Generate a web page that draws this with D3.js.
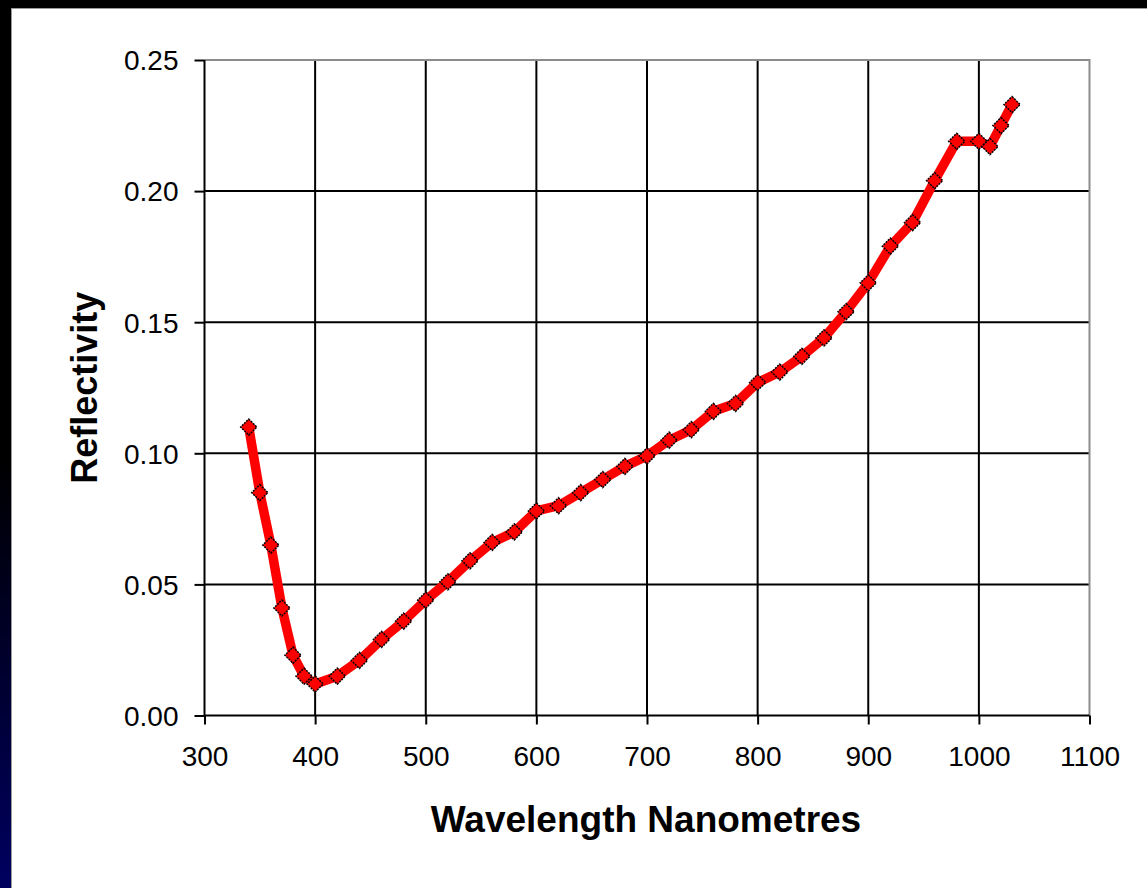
<!DOCTYPE html>
<html>
<head>
<meta charset="utf-8">
<script src="https://cdn.jsdelivr.net/npm/d3@7"></script>
<style>
html,body{margin:0;padding:0;background:#000;}
svg{display:block;}
</style>
</head>
<body>
<svg id="chart" width="1147" height="888"></svg>
<script>
const wavelengths = [340,350,360,370,380,390,400,420,440,460,480,500,520,540,560,580,600,620,640,660,680,700,720,740,760,780,800,820,840,860,880,900,920,940,960,980,1000,1010,1020,1030];
const reflectivity = [0.110,0.085,0.065,0.041,0.023,0.015,0.012,0.015,0.021,0.029,0.036,0.044,0.051,0.059,0.066,0.070,0.078,0.080,0.085,0.090,0.095,0.099,0.105,0.109,0.116,0.119,0.127,0.131,0.137,0.144,0.154,0.165,0.179,0.188,0.204,0.219,0.219,0.217,0.225,0.233];
const xTicks = [300,400,500,600,700,800,900,1000,1100];
const yTicks = [0.00,0.05,0.10,0.15,0.20,0.25];
const xTitle = "Wavelength Nanometres";
const yTitle = "Reflectivity";

(function(){
const svg = d3.select("#chart");
const defs = svg.append("defs");
const grad = defs.append("linearGradient").attr("id","side").attr("x1",0).attr("y1",0).attr("x2",0).attr("y2",1);
grad.append("stop").attr("offset","0%").attr("stop-color","#000");
grad.append("stop").attr("offset","52%").attr("stop-color","#000");
grad.append("stop").attr("offset","100%").attr("stop-color","#000060");

svg.append("rect").attr("x",0).attr("y",0).attr("width",1147).attr("height",888).attr("fill","#000");
svg.append("rect").attr("x",0).attr("y",0).attr("width",12).attr("height",888).attr("fill","url(#side)");
svg.append("rect").attr("x",11.5).attr("y",8.5).attr("width",1140).attr("height",884)
  .attr("fill","#fff").attr("stroke","#9a9a9a").attr("stroke-width",1);

const pL = 204.5, pR = 1089.5, pT = 60, pB = 715.5;
const x = d3.scaleLinear().domain([300,1100]).range([pL,pR]);
const y = d3.scaleLinear().domain([0,0.25]).range([pB,pT]);

const g = svg.append("g");
g.append("g").selectAll("line").data(xTicks.slice(1,-1)).join("line")
  .attr("x1",d=>x(d)).attr("x2",d=>x(d)).attr("y1",pT).attr("y2",pB)
  .attr("stroke","#000").attr("stroke-width",2);
g.append("g").selectAll("line").data(yTicks.slice(1,-1)).join("line")
  .attr("x1",pL).attr("x2",pR).attr("y1",d=>y(d)).attr("y2",d=>y(d))
  .attr("stroke","#000").attr("stroke-width",2);
g.append("path").attr("d",`M${pL},${pT}H${pR}V${pB}`)
  .attr("fill","none").attr("stroke","#8c8c8c").attr("stroke-width",2);

const xAxis = d3.axisBottom(x).tickValues(xTicks).tickSize(9).tickPadding(22).tickFormat(d3.format("d"));
const yAxis = d3.axisLeft(y).tickValues(yTicks).tickSize(10).tickPadding(16).tickFormat(d3.format(".2f"));
const gx = svg.append("g").attr("transform",`translate(0,${pB})`).call(xAxis);
const gy = svg.append("g").attr("transform",`translate(${pL},0)`).call(yAxis);
[gx,gy].forEach(a=>{
  a.select(".domain").attr("stroke","#000").attr("stroke-width",2);
  a.selectAll(".tick line").attr("stroke","#000").attr("stroke-width",2);
  a.selectAll("text").attr("font-family","Liberation Sans, Arial, sans-serif").attr("font-size",28).attr("fill","#000");
});
gx.select(".domain").attr("d",`M${pL},0H${pR}`);
gy.select(".domain").attr("d",`M0,${pT}V${pB}`);
gy.selectAll("text").attr("dy","0.35em");

svg.append("text").attr("x",646).attr("y",832).attr("text-anchor","middle")
  .attr("font-family","Liberation Sans, Arial, sans-serif").attr("font-weight","bold").attr("font-size",37)
  .text(xTitle);
svg.append("text").attr("transform",`translate(97,${(pT+pB)/2}) rotate(-90)`).attr("text-anchor","middle")
  .attr("font-family","Liberation Sans, Arial, sans-serif").attr("font-weight","bold").attr("font-size",36)
  .text(yTitle);

const data = wavelengths.map((w,i)=>({w, r:reflectivity[i]}));
const line = d3.line().x(d=>x(d.w)).y(d=>y(d.r));
svg.append("path").datum(data).attr("d",line).attr("fill","none")
  .attr("stroke","#ff0000").attr("stroke-width",9.5).attr("stroke-linejoin","round").attr("stroke-linecap","round");
svg.append("g").selectAll("path").data(data).join("path")
  .attr("transform",d=>`translate(${x(d.w)},${y(d.r)}) rotate(45)`)
  .attr("d",d3.symbol().type(d3.symbolSquare).size(130))
  .attr("fill","#ff0000").attr("stroke","#000").attr("stroke-width",1.5).attr("stroke-dasharray","2,1");
})();
</script>
</body>
</html>
